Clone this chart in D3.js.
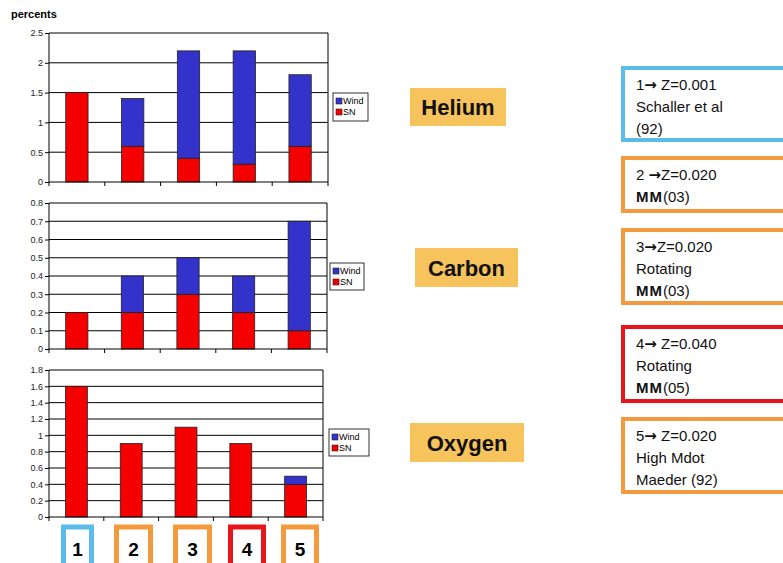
<!DOCTYPE html>
<html>
<head>
<meta charset="utf-8">
<script src="https://d3js.org/d3.v7.min.js"></script>
<style>
body { margin: 0; background: #fff; }
svg { display: block; font-family: Arial, "Liberation Sans", sans-serif; }
</style>
</head>
<body>
<div id="chart"></div>
<script>
var width = 783;
var height = 563;

// models 1..5
var models = ["1", "2", "3", "4", "5"];
var modelColors = ["#5bbcec", "#f39a3e", "#f39a3e", "#e8161b", "#f39a3e"];

var heliumSN   = [1.5, 0.6, 0.4, 0.3, 0.6];
var heliumWind = [0.0, 0.8, 1.8, 1.9, 1.2];
var carbonSN   = [0.2, 0.2, 0.3, 0.2, 0.1];
var carbonWind = [0.0, 0.2, 0.2, 0.2, 0.6];
var oxygenSN   = [1.6, 0.9, 1.1, 0.9, 0.4];
var oxygenWind = [0.0, 0.0, 0.0, 0.0, 0.1];

var heliumTicks = [0, 0.5, 1, 1.5, 2, 2.5];
var carbonTicks = [0, 0.1, 0.2, 0.3, 0.4, 0.5, 0.6, 0.7, 0.8];
var oxygenTicks = [0, 0.2, 0.4, 0.6, 0.8, 1, 1.2, 1.4, 1.6, 1.8];

// [number, gap before arrow, rest of first line], then extra lines
var noteHeads = [["1", "", " Z=0.001"], ["2", " ", "Z=0.020"], ["3", "", "Z=0.020"], ["4", "", " Z=0.040"], ["5", "", " Z=0.020"]];
var noteLines = [
    ["Schaller et al", "(92)"],
    ["MM(03)"],
    ["Rotating", "MM(03)"],
    ["Rotating", "MM(05)"],
    ["High Mdot", "Maeder (92)"]
];

var svg = d3.select("#chart").append("svg")
    .attr("width", width)
    .attr("height", height);

svg.append("text")
    .attr("x", 11)
    .attr("y", 18)
    .style("font-size", "11px")
    .style("font-weight", "bold")
    .text("percents");

var panels = [
    {name: "Helium", sn: heliumSN, wind: heliumWind, ticks: heliumTicks, max: 2.5, x0: 49, x1: 328, y0: 33, y1: 182,
        legend: [333, 93, 35, 28], label: [410, 88, 96, 38]},
    {name: "Carbon", sn: carbonSN, wind: carbonWind, ticks: carbonTicks, max: 0.8, x0: 49, x1: 327, y0: 203, y1: 349,
        legend: [330, 263, 34, 27], label: [415, 248, 103, 39]},
    {name: "Oxygen", sn: oxygenSN, wind: oxygenWind, ticks: oxygenTicks, max: 1.8, x0: 49, x1: 323, y0: 370, y1: 517,
        legend: [329, 429, 40, 27], label: [410, 423, 114, 39]}
];

panels.forEach(function(p) { drawPanel(p); });

function drawPanel(p) {
    var xScale = d3.scaleBand()
        .domain(models)
        .range([p.x0, p.x1])
        .paddingInner(0.6)
        .paddingOuter(0.3);

    var yScale = d3.scaleLinear()
        .domain([0, p.max])
        .range([p.y1, p.y0]);

    var g = svg.append("g");

    // gridlines
    g.selectAll(".grid")
        .data(p.ticks.slice(1))
        .enter().append("line")
        .attr("x1", p.x0)
        .attr("x2", p.x1)
        .attr("y1", function(d) { return yScale(d); })
        .attr("y2", function(d) { return yScale(d); })
        .style("stroke", "#000")
        .style("stroke-width", 1);

    // right border
    g.append("line")
        .attr("x1", p.x1).attr("x2", p.x1)
        .attr("y1", p.y0).attr("y2", p.y1)
        .style("stroke", "#000");

    var rows = models.map(function(m, i) {
        return {model: m, sn: p.sn[i], wind: p.wind[i]};
    });

    // SN (bottom)
    g.selectAll(".sn")
        .data(rows)
        .enter().append("rect")
        .attr("x", function(d) { return xScale(d.model); })
        .attr("width", xScale.bandwidth())
        .attr("y", function(d) { return yScale(d.sn); })
        .attr("height", function(d) { return yScale(0) - yScale(d.sn); })
        .style("fill", "#f50000")
        .style("stroke", "#222")
        .style("stroke-width", 0.8);

    // Wind (stacked on top)
    g.selectAll(".wind")
        .data(rows.filter(function(d) { return d.wind > 0; }))
        .enter().append("rect")
        .attr("x", function(d) { return xScale(d.model); })
        .attr("width", xScale.bandwidth())
        .attr("y", function(d) { return yScale(d.sn + d.wind); })
        .attr("height", function(d) { return yScale(d.sn) - yScale(d.sn + d.wind); })
        .style("fill", "#3333cc")
        .style("stroke", "#222")
        .style("stroke-width", 0.8);

    // y axis
    var yAxis = d3.axisLeft(yScale)
        .tickValues(p.ticks)
        .tickSize(4)
        .tickFormat(d3.format("~g"));
    var ya = g.append("g")
        .attr("transform", "translate(" + p.x0 + ",0)")
        .call(yAxis);
    ya.select(".domain").attr("d", "M0," + p.y0 + "V" + p.y1).style("stroke", "#000");
    ya.selectAll("text").style("font-size", "9px").style("fill", "#222").attr("x", -6);

    // x axis with ticks at category boundaries
    var bounds = d3.range(models.length + 1).map(function(i) {
        return p.x0 + i * (p.x1 - p.x0) / models.length;
    });
    g.append("line")
        .attr("x1", p.x0).attr("x2", p.x1)
        .attr("y1", p.y1).attr("y2", p.y1)
        .style("stroke", "#000");
    g.selectAll(".xtick")
        .data(bounds)
        .enter().append("line")
        .attr("x1", function(d) { return d; })
        .attr("x2", function(d) { return d; })
        .attr("y1", p.y1)
        .attr("y2", p.y1 + 4)
        .style("stroke", "#000");

    // legend
    var lg = g.append("g").attr("transform", "translate(" + p.legend[0] + "," + p.legend[1] + ")");
    lg.append("rect")
        .attr("width", p.legend[2]).attr("height", p.legend[3])
        .style("fill", "#fff").style("stroke", "#000").style("stroke-width", 0.8);
    var items = [["Wind", "#3333cc"], ["SN", "#f50000"]];
    items.forEach(function(it, i) {
        var yy = 5 + i * 11;
        lg.append("rect")
            .attr("x", 3).attr("y", yy)
            .attr("width", 6).attr("height", 6)
            .style("fill", it[1]).style("stroke", "#222").style("stroke-width", 0.6);
        lg.append("text")
            .attr("x", 10).attr("y", yy + 6)
            .style("font-size", "9px")
            .text(it[0]);
    });

    // element label
    var lb = p.label;
    svg.append("rect")
        .attr("x", lb[0]).attr("y", lb[1])
        .attr("width", lb[2]).attr("height", lb[3])
        .style("fill", "#f6c35c");
    svg.append("text")
        .attr("x", lb[0] + lb[2] / 2)
        .attr("y", lb[1] + lb[3] / 2 + 8)
        .attr("text-anchor", "middle")
        .style("font-size", "22px")
        .style("font-weight", "bold")
        .style("fill", "#111")
        .text(p.name);
}

// numbered boxes under the bottom chart
var boxes = [[61, 94], [114, 153], [173, 212], [228, 266], [281, 319]];
boxes.forEach(function(b, i) {
    svg.append("rect")
        .attr("x", b[0] + 2.5).attr("y", 527)
        .attr("width", b[1] - b[0] - 5).attr("height", 44)
        .style("fill", "#fff")
        .style("stroke", modelColors[i])
        .style("stroke-width", 5);
    svg.append("text")
        .attr("x", (b[0] + b[1]) / 2)
        .attr("y", 556)
        .attr("text-anchor", "middle")
        .style("font-size", "19px")
        .style("font-weight", "bold")
        .text(models[i]);
});

// model notes on the right
var noteBoxes = [[66, 142], [156, 213], [228, 305], [325, 403], [417, 494]];
noteBoxes.forEach(function(b, i) {
    svg.append("rect")
        .attr("x", 623).attr("y", b[0] + 2)
        .attr("width", 200).attr("height", b[1] - b[0] - 4)
        .style("fill", "#fff")
        .style("stroke", modelColors[i])
        .style("stroke-width", 4);
    var head = svg.append("text")
        .attr("x", 636)
        .attr("y", b[0] + 24)
        .style("font-size", "15px")
        .style("fill", "#111");
    head.append("tspan").text(noteHeads[i][0] + noteHeads[i][1]);
    head.append("tspan")
        .style("font-family", "'DejaVu Sans', sans-serif")
        .style("font-weight", "bold")
        .style("font-size", "15px")
        .text("\u2192");
    head.append("tspan").text(noteHeads[i][2]);
    noteLines[i].forEach(function(line, j) {
        var t = svg.append("text")
            .attr("x", 636)
            .attr("y", b[0] + 46 + j * 22)
            .style("font-size", "15px")
            .style("fill", "#111");
        if (line.indexOf("MM") === 0) {
            t.append("tspan").style("font-weight", "bold").attr("letter-spacing", "1px").text("MM");
            t.append("tspan").text(line.slice(2));
        } else {
            t.text(line);
        }
    });
});
</script>
</body>
</html>
